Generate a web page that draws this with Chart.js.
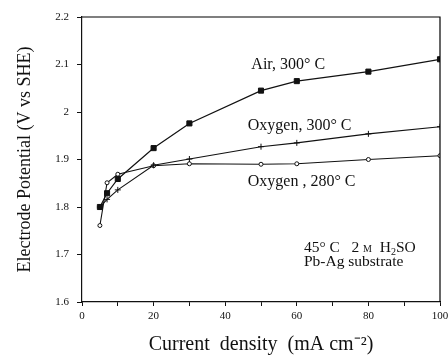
<!DOCTYPE html>
<html>
<head>
<meta charset="utf-8">
<script src="https://cdn.jsdelivr.net/npm/chart.js@4.4.1/dist/chart.umd.min.js"></script>
<style>
  html, body { margin: 0; padding: 0; background: #fff; }
  #wrap { width: 448px; height: 358px; position: relative; }
</style>
</head>
<body>
<div id="wrap"><canvas id="c" width="448" height="358"></canvas></div>
<script>
// Current density (mA cm^-2) at which each potential was measured
const currentDensity = [5, 7, 10, 20, 30, 50, 60, 80, 100];

// Electrode potential (V vs SHE) for each anode preparation
const air300 = [1.800, 1.829, 1.859, 1.924, 1.976, 2.045, 2.065, 2.085, 2.111];
const oxygen300 = [1.800, 1.816, 1.836, 1.888, 1.901, 1.927, 1.935, 1.954, 1.969];
const oxygen280 = [1.761, 1.851, 1.869, 1.887, 1.891, 1.890, 1.891, 1.900, 1.908];

// Axis ranges and tick steps
const xTicks = [0, 20, 40, 60, 80, 100];
const yTicks = [1.6, 1.7, 1.8, 1.9, 2.0, 2.1, 2.2];

const curveLabels = ['Air, 300° C', 'Oxygen, 300° C', 'Oxygen , 280° C'];
const conditionLine2 = 'Pb-Ag substrate';

const SERIF = '"Liberation Serif", "Times New Roman", serif';

function pts(ys) {
  return currentDensity.map((x, i) => ({ x: x, y: ys[i] }));
}

// Frame around the plot area (top and right edges)
const framePlugin = {
  id: 'frame',
  afterDraw(chart) {
    const { ctx, chartArea: a } = chart;
    ctx.save();
    ctx.strokeStyle = '#000';
    ctx.lineWidth = 1.2;
    ctx.beginPath();
    ctx.moveTo(a.left, a.top);
    ctx.lineTo(a.right, a.top);
    ctx.lineTo(a.right, a.bottom);
    ctx.stroke();
    ctx.restore();
  }
};

// Curve names and experimental conditions written inside the plot
const notesPlugin = {
  id: 'notes',
  afterDraw(chart) {
    const { ctx, scales } = chart;
    const xs = scales.x, ys = scales.y;
    ctx.save();
    ctx.fillStyle = '#111';
    ctx.textBaseline = 'alphabetic';
    ctx.textAlign = 'left';
    ctx.font = '16px ' + SERIF;
    ctx.fillText(curveLabels[0], xs.getPixelForValue(47.3), ys.getPixelForValue(2.09));
    ctx.fillText(curveLabels[1], xs.getPixelForValue(46.3), ys.getPixelForValue(1.963));
    ctx.fillText(curveLabels[2], xs.getPixelForValue(46.3), ys.getPixelForValue(1.845));

    // "45° C  2 M H2SO" with small-cap M and subscript 2
    let x = xs.getPixelForValue(62);
    const y1 = ys.getPixelForValue(1.705);
    const parts = [
      { t: '45° C   2 ', f: '15.5px ' + SERIF, dy: 0 },
      { t: 'M', f: '10px ' + SERIF, dy: 0 },
      { t: '  H', f: '15.5px ' + SERIF, dy: 0 },
      { t: '2', f: '10px ' + SERIF, dy: 3 },
      { t: 'SO', f: '15.5px ' + SERIF, dy: 0 }
    ];
    parts.forEach(p => {
      ctx.font = p.f;
      ctx.fillText(p.t, x, y1 + p.dy);
      x += ctx.measureText(p.t).width;
    });
    ctx.font = '15.5px ' + SERIF;
    ctx.fillText(conditionLine2, xs.getPixelForValue(62), ys.getPixelForValue(1.676));
    ctx.restore();
  }
};

new Chart(document.getElementById('c'), {
  type: 'line',
  data: {
    datasets: [
      {
        label: curveLabels[0],
        data: pts(air300),
        borderColor: '#111',
        borderWidth: 1.2,
        pointStyle: 'rect',
        pointRadius: 3.6,
        pointBackgroundColor: '#111',
        pointBorderColor: '#111',
        pointBorderWidth: 1,
        tension: 0
      },
      {
        label: curveLabels[1],
        data: pts(oxygen300),
        borderColor: '#111',
        borderWidth: 1.1,
        pointStyle: 'cross',
        pointRadius: 3,
        pointBorderColor: '#111',
        pointBorderWidth: 1,
        tension: 0
      },
      {
        label: curveLabels[2],
        data: pts(oxygen280),
        borderColor: '#111',
        borderWidth: 1.1,
        pointStyle: 'circle',
        pointRadius: 2,
        pointBackgroundColor: '#fff',
        pointBorderColor: '#111',
        pointBorderWidth: 1,
        tension: 0
      }
    ]
  },
  options: {
    responsive: false,
    animation: false,
    events: [],
    layout: { padding: { top: 17, right: 8, left: 0, bottom: 0 } },
    plugins: {
      legend: { display: false },
      tooltip: { enabled: false }
    },
    scales: {
      x: {
        type: 'linear',
        min: 0,
        max: 100,
        afterFit(s) { s.height = 56; s.paddingLeft = 0; s.paddingRight = 0; },
        afterBuildTicks(s) {
          const t = [];
          for (let v = 0; v <= 100; v += 10) t.push({ value: v });
          s.ticks = t;
        },
        ticks: {
          autoSkip: false,
          maxRotation: 0,
          padding: 4,
          color: '#111',
          font: { family: SERIF, size: 11 },
          callback(v) { return xTicks.includes(v) ? String(v) : ''; }
        },
        grid: { display: true, drawOnChartArea: false, drawTicks: true, tickLength: 4, color: '#111' },
        border: { display: true, color: '#111', width: 1.2 },
        title: {
          display: true,
          text: 'Current  density  (mA cm⁻²)',
          color: '#111',
          font: { family: SERIF, size: 20 },
          padding: { top: 0, bottom: 1 }
        }
      },
      y: {
        type: 'linear',
        min: 1.6,
        max: 2.2,
        afterFit(s) { s.width = 82; },
        afterBuildTicks(s) {
          s.ticks = yTicks.map(v => ({ value: v }));
        },
        ticks: {
          padding: 8,
          color: '#111',
          font: { family: SERIF, size: 11 },
          callback(v) { return String(+Number(v).toFixed(1)); }
        },
        grid: { display: true, drawOnChartArea: false, drawTicks: true, tickLength: 5, color: '#111' },
        border: { display: true, color: '#111', width: 1.2 },
        title: {
          display: true,
          text: 'Electrode Potential (V vs SHE)',
          color: '#111',
          font: { family: SERIF, size: 18 },
          padding: { top: 14, bottom: 0 }
        }
      }
    }
  },
  plugins: [framePlugin, notesPlugin]
});
</script>
</body>
</html>
